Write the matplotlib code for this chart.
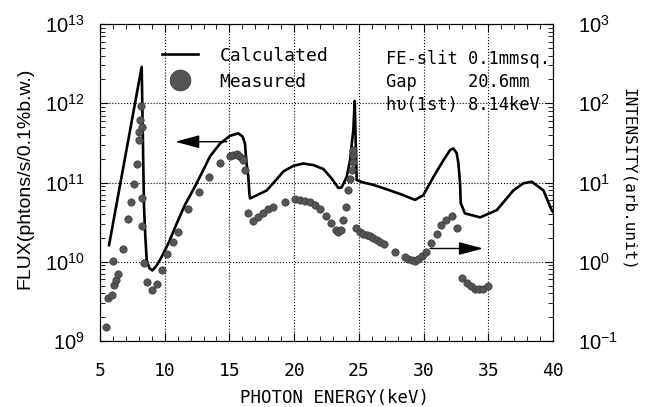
import numpy as np
import matplotlib
matplotlib.use('Agg')
import matplotlib.pyplot as plt
from matplotlib.lines import Line2D

# calculated flux (photons/s/0.1%b.w.), log10 values
calc_energy = [5.70, 7.0, 8.22, 8.40, 8.50, 8.61, 8.81, 9.04, 9.37, 9.76, 10.28, 10.92,
               11.57, 12.34, 13.11, 13.50, 14.27, 15.05, 15.69, 16.02, 16.20, 16.33,
               16.46, 16.54, 16.59, 17.0, 17.88, 18.65, 19.17, 19.94, 20.70, 21.48,
               22.26, 22.90, 23.42, 23.67, 24.06, 24.32, 24.57, 24.68, 24.83, 25.35,
               26.12, 27.41, 28.44, 29.34, 29.98, 30.76, 31.53, 32.05, 32.30, 32.56,
               32.69, 32.82, 32.87, 33.20, 34.37, 35.65, 36.94, 37.71, 38.36, 39.26, 39.9, 40.0]
calc_logflux = [10.21, 11.37, 12.46, 10.69, 10.32, 10.02, 9.92, 9.89, 9.95, 10.06, 10.23, 10.48,
                10.72, 10.95, 11.20, 11.33, 11.49, 11.59, 11.62, 11.58, 11.49, 11.23,
                11.07, 10.86, 10.80, 10.83, 10.90, 11.04, 11.14, 11.21, 11.24, 11.22,
                11.17, 11.05, 10.93, 10.94, 11.07, 11.28, 11.66, 12.03, 11.03, 11.00,
                10.97, 10.90, 10.84, 10.78, 10.84, 11.07, 11.28, 11.41, 11.43, 11.37,
                11.24, 10.99, 10.74, 10.61, 10.56, 10.65, 10.90, 10.99, 11.01, 10.90, 10.65, 10.63]

# measured intensity (arb. unit), log10 values
meas_energy = [5.46, 5.64, 5.90, 6.08, 6.24, 6.41, 6.03, 6.74, 7.19, 7.40, 7.63, 7.84,
               8.01, 8.04, 8.09, 8.17, 8.27, 8.22, 8.27, 8.40, 8.61, 8.99, 9.37, 9.82,
               10.2, 10.61, 11.0, 11.83, 12.65, 13.45, 14.27, 15.05, 15.30, 15.56, 15.77,
               15.95, 16.07, 16.20, 16.46, 16.85, 17.23, 17.62, 18.0, 18.4, 19.3, 20.07,
               20.46, 20.84, 21.23, 21.6, 22.0, 22.43, 22.85, 23.2, 23.4, 23.6, 23.75,
               24.0, 24.19, 24.32, 24.45, 24.53, 24.57, 24.53, 24.78, 25.09, 25.35, 25.6,
               25.87, 26.12, 26.38, 26.64, 26.93, 27.8, 28.57, 28.83, 29.09, 29.34, 29.6,
               29.86, 30.19, 30.55, 31.01, 31.35, 31.74, 32.18, 32.61, 32.95, 33.34, 33.64,
               33.98, 34.31, 34.62, 35.01]
meas_logint = [-0.82, -0.46, -0.42, -0.29, -0.23, -0.15, 0.01, 0.16, 0.54, 0.76, 0.98, 1.23,
               1.54, 1.64, 1.79, 1.96, 1.70, 0.81, 0.45, -0.01, -0.26, -0.36, -0.28, -0.11,
               0.10, 0.25, 0.37, 0.67, 0.88, 1.07, 1.24, 1.33, 1.35, 1.36, 1.34,
               1.31, 1.28, 1.16, 0.61, 0.51, 0.57, 0.62, 0.66, 0.69, 0.76, 0.79,
               0.78, 0.77, 0.75, 0.72, 0.66, 0.58, 0.49, 0.40, 0.38, 0.40, 0.53,
               0.69, 0.91, 1.05, 1.16, 1.26, 1.35, 1.41, 0.42, 0.38, 0.35, 0.34,
               0.32, 0.30, 0.27, 0.25, 0.23, 0.12, 0.06, 0.03, 0.02, 0.01, 0.04,
               0.07, 0.12, 0.24, 0.35, 0.46, 0.53, 0.58, 0.43, -0.21, -0.27, -0.31,
               -0.34, -0.35, -0.35, -0.31]

info_lines = ['FE-slit 0.1mmsq.', 'Gap     20.6mm', 'h\u03c5(1st) 8.14keV']

mono = 'DejaVu Sans Mono'
sans = 'Liberation Sans'
plt.rcParams['mathtext.default'] = 'regular'

fig = plt.figure(figsize=(6.48, 4.07), dpi=100)
ax = fig.add_axes([100/648, 1-341/407, 453/648, 317/407])
ax2 = ax.twinx()

line, = ax.plot(calc_energy, 10**np.array(calc_logflux), color='black', lw=1.9)
pts, = ax2.plot(meas_energy, 10**np.array(meas_logint), 'o', ms=5.3, mfc='#555555',
                mec='#3a3a3a', mew=0.5, ls='none')

ax.set_xlim(5, 40)
ax.set_yscale('log')
ax.set_ylim(1e9, 1e13)
ax2.set_yscale('log')
ax2.set_ylim(0.1, 1000)

ax.set_xticks(np.arange(5, 41, 5))
ax.set_xticks(np.arange(5, 41, 1), minor=True)
ax.grid(True, which='major', ls=':', color='black', lw=0.8)

ax.tick_params(which='both', direction='in', top=True, right=False, color='black')
ax.tick_params(which='major', length=6, width=0.8)
ax.tick_params(which='minor', length=3.5, width=0.6)
ax.tick_params(axis='y', which='major', pad=11)
ax.tick_params(axis='x', pad=15)
ax2.tick_params(which='both', direction='in')
ax2.tick_params(which='major', length=6, width=0.8, pad=18)
ax2.tick_params(which='minor', length=3.5, width=0.6)

for lab in ax.get_xticklabels():
    lab.set_fontfamily(mono)
    lab.set_fontsize(13)
for lab in ax.get_yticklabels() + ax2.get_yticklabels():
    lab.set_fontfamily(sans)
    lab.set_fontsize(14.5)

# arrows to show which axis each series belongs to
ax.annotate('', xy=(10.8, 3.27e11), xytext=(14.8, 3.27e11),
            arrowprops=dict(arrowstyle='-|>,head_length=1.5,head_width=0.4',
                            color='black', lw=1.0, shrinkA=0, shrinkB=0))
ax2.annotate('', xy=(34.6, 1.47), xytext=(30.5, 1.47),
             arrowprops=dict(arrowstyle='-|>,head_length=1.5,head_width=0.4',
                             color='black', lw=1.0, shrinkA=0, shrinkB=0))

for i, txt in enumerate(info_lines):
    ax.text(0.631, 0.89 - i*0.073, txt, transform=ax.transAxes, fontfamily=mono,
            fontsize=12.3, va='center', ha='left')

handles = [Line2D([], [], color='black', lw=1.9),
           Line2D([], [], marker='o', ls='none', ms=15, mfc='#555555', mec='#3a3a3a', mew=0.5)]
leg = ax.legend(handles, ['Calculated', 'Measured'], loc='upper left',
                bbox_to_anchor=(0.1, 0.98), frameon=False, handlelength=2.0,
                handletextpad=1.2, labelspacing=0.45, prop={'family': mono, 'size': 13})

fig.text(25/648, 1-178/407, 'FLUX(phtons/s/0.1%b.w.)', rotation=90, ha='center', va='center',
         fontfamily=sans, fontsize=14)
fig.text(628/648, 1-179/407, 'INTENSITY(arb.unit)', rotation=270, ha='center', va='center',
         fontfamily=mono, fontsize=11.5)
fig.text(334/648, 1-398/407, 'PHOTON ENERGY(keV)', ha='center', va='center',
         fontfamily=mono, fontsize=12.5)

fig.savefig('out.png', dpi=100)
